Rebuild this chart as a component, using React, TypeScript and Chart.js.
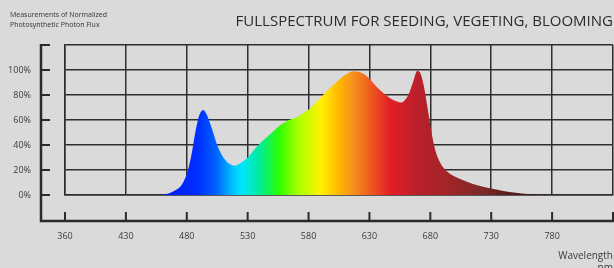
import React, { useEffect, useRef } from "react";
import { Chart, registerables } from "chart.js";

Chart.register(...registerables);

// ---- data ----
const titleText = "FULLSPECTRUM FOR SEEDING, VEGETING, BLOOMING";
const noteLines = ["Measurements of Normalized", "Photosynthetic Photon Flux"];
const xAxisTitle = ["Wavelength", "nm"];

const xTickValues = [380, 430, 480, 530, 580, 630, 680, 730, 780, 830];
const xTickLabels = ["360", "430", "480", "530", "580", "630", "680", "730", "780", ""];
const yTickValues = [0, 20, 40, 60, 80, 100, 120];
const yTickLabels = ["0%", "20%", "40%", "60%", "80%", "100%", ""];

const wavelengths = [
  458, 465, 471, 475, 478, 481, 484, 487, 490, 493.5, 497, 501, 505, 510, 515, 519.5, 525, 530,
  536, 543, 550, 557, 564, 570, 575, 581, 587, 592, 598, 603, 610, 617, 625, 631, 636,
  642, 647, 652, 656, 660, 663, 666, 669.5, 672, 674.5, 678, 681, 684, 688, 692, 697,
  703, 710, 720, 730, 740, 750, 760, 770,
];
const flux = [
  0, 1.3, 4, 7, 12, 20, 33, 50, 63, 68, 63, 52, 40, 30, 25, 23.5, 26, 30,
  37, 44, 50, 56, 60, 62, 65, 69, 75, 80, 86, 90.5, 96, 99, 97, 92, 86.5,
  81, 77.5, 75, 74, 77, 82.5, 91, 99.5, 97, 88, 68, 50, 36, 26, 20.5, 16.5,
  13.5, 10.7, 7.5, 5.2, 3.3, 1.8, 0.8, 0,
];

// ---- styles ----
const gradientNm = [460, 490, 505, 515, 525, 540, 556, 571, 590, 605, 616, 631, 647, 671, 695, 722, 745, 770];
const gradientColors = [
  "#0016ff", "#0030ff", "#0066ff", "#00b0ff", "#00e6ff", "#00eb98", "#2cff00", "#a8ff00",
  "#fff200", "#ffb600", "#f7931e", "#ee5a1f", "#e21e26", "#b8202a", "#a22427", "#7e2a2a",
  "#5a1c1c", "#3c1010",
];
const FONT = "'Open Sans', 'Noto Sans', sans-serif";
const GRID = "#2e2e2e";
const AXIS = "#2a2a2a";
const TEXT = "#3a3a3a";

function makeGradient(chart: any) {
  const x = chart.scales?.x;
  if (!chart.chartArea || !x) return "#e21e26";
  const x0 = x.getPixelForValue(gradientNm[0]);
  const x1 = x.getPixelForValue(gradientNm[gradientNm.length - 1]);
  const g = chart.ctx.createLinearGradient(x0, 0, x1, 0);
  gradientNm.forEach((nm, i) => {
    g.addColorStop((x.getPixelForValue(nm) - x0) / (x1 - x0), gradientColors[i]);
  });
  return g;
}

const outerAxisPlugin = {
  id: "outerAxis",
  afterDraw(chart: any) {
    const { ctx, chartArea: a, scales } = chart;
    const { x, y } = scales;
    const ax = a.left - 24;
    const ay = a.bottom + 26;
    ctx.save();
    ctx.strokeStyle = AXIS;
    ctx.lineCap = "butt";
    ctx.lineWidth = 2.5;
    ctx.beginPath();
    ctx.moveTo(ax, y.getPixelForValue(120) - 1);
    ctx.lineTo(ax, ay);
    ctx.lineTo(chart.width, ay);
    ctx.stroke();
    ctx.lineWidth = 2;
    ctx.beginPath();
    y.ticks.forEach((t: any) => {
      const py = y.getPixelForValue(t.value);
      ctx.moveTo(ax, py);
      ctx.lineTo(ax + 9, py);
    });
    x.ticks.forEach((t: any) => {
      const px = x.getPixelForValue(t.value);
      ctx.moveTo(px, ay);
      ctx.lineTo(px, ay - 9);
    });
    ctx.stroke();
    ctx.restore();
  },
};

export default function App() {
  const ref = useRef<HTMLCanvasElement>(null);

  useEffect(() => {
    if (!ref.current) return;
    const chart = new Chart(ref.current, {
      type: "line",
      data: {
        datasets: [
          {
            data: wavelengths.map((w, i) => ({ x: w, y: flux[i] })),
            fill: "origin",
            backgroundColor: (ctx: any) => makeGradient(ctx.chart),
            borderColor: "transparent",
            borderWidth: 0,
            pointRadius: 0,
            cubicInterpolationMode: "monotone",
          },
        ],
      },
      options: {
        responsive: false,
        animation: false,
        events: [],
        layout: { padding: { top: 0, right: 1, bottom: 0, left: 0 } },
        plugins: {
          legend: { display: false },
          tooltip: { enabled: false },
          title: {
            display: true,
            text: titleText,
            align: "end",
            color: "#2b2b2b",
            font: { family: FONT, size: 15, weight: "normal" },
            padding: { top: 13, bottom: 14 },
          },
        },
        scales: {
          x: {
            type: "linear",
            min: xTickValues[0],
            max: xTickValues[xTickValues.length - 1],
            afterBuildTicks: (scale: any) => {
              scale.ticks = xTickValues.map((v) => ({ value: v }));
            },
            afterFit: (scale: any) => {
              scale.height = 85;
              scale.paddingLeft = 0;
              scale.paddingRight = 0;
            },
            ticks: {
              autoSkip: false,
              maxRotation: 0,
              padding: 36,
              color: TEXT,
              font: { family: FONT, size: 9 },
              callback: (_v: any, i: number) => xTickLabels[i],
            },
            grid: { color: GRID, lineWidth: 1.5, drawTicks: false },
            border: { display: true, color: GRID, width: 1.5 },
            title: {
              display: true,
              text: xAxisTitle,
              align: "end",
              color: TEXT,
              font: { family: FONT, size: 10 },
              padding: { top: 0, bottom: 6 },
            },
          },
          y: {
            min: 0,
            max: 120,
            afterBuildTicks: (scale: any) => {
              scale.ticks = yTickValues.map((v) => ({ value: v }));
            },
            afterFit: (scale: any) => {
              scale.width = 65;
            },
            ticks: {
              padding: 34,
              color: TEXT,
              font: { family: FONT, size: 9 },
              callback: (_v: any, i: number) => yTickLabels[i],
            },
            grid: { color: GRID, lineWidth: 1.5, drawTicks: false },
            border: { display: true, color: GRID, width: 1.5 },
          },
        },
      },
      plugins: [outerAxisPlugin],
    } as any);
    return () => chart.destroy();
  }, []);

  return (
    <div
      style={{
        position: "fixed",
        left: 0,
        top: 0,
        width: 614,
        height: 268,
        overflow: "hidden",
        background: "#dadada",
      }}
    >
      <canvas ref={ref} width={614} height={280} style={{ display: "block", width: 614, height: 280 }} />
      <div
        style={{
          position: "absolute",
          left: 10,
          top: 10,
          fontFamily: FONT,
          fontSize: 7,
          lineHeight: "10px",
          color: "#333",
          whiteSpace: "nowrap",
        }}
      >
        {noteLines.map((l) => (
          <div key={l}>{l}</div>
        ))}
      </div>
    </div>
  );
}
